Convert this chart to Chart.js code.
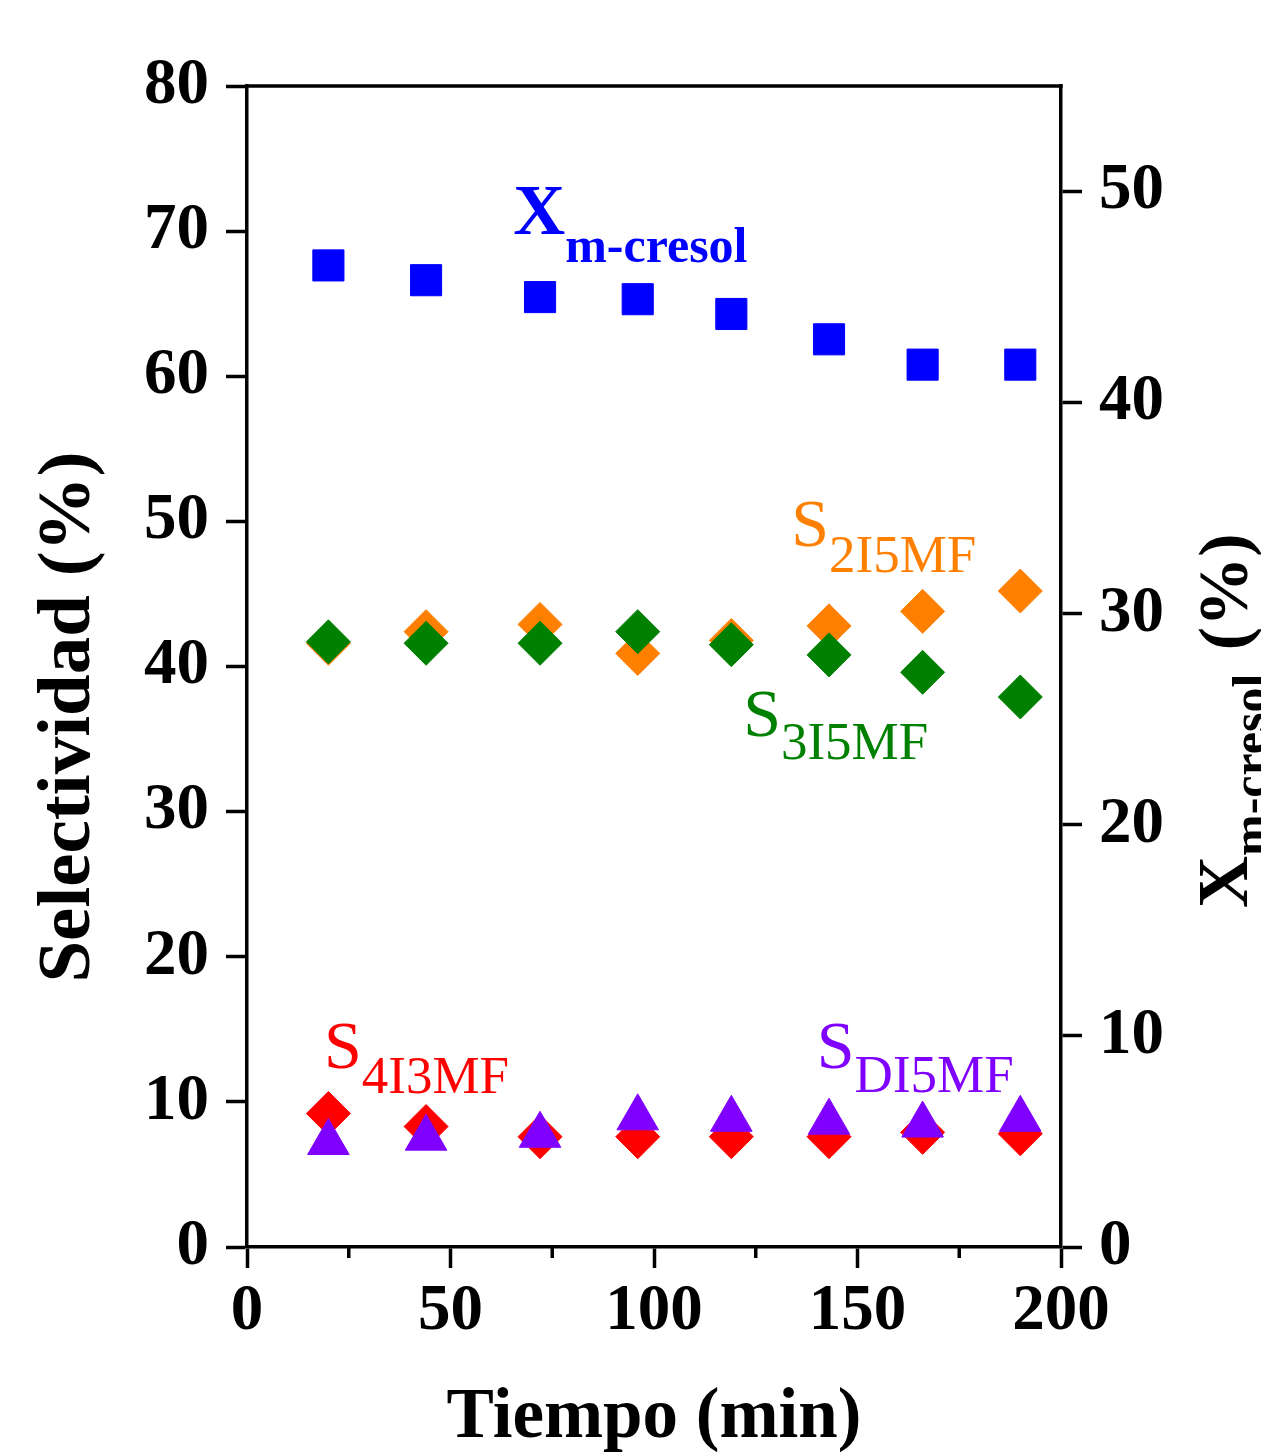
<!DOCTYPE html>
<html lang="es">
<head>
<meta charset="utf-8">
<title>Selectividad y conversión de m-cresol</title>
<script src="https://cdn.jsdelivr.net/npm/chart.js@4.4.0/dist/chart.umd.min.js"></script>
<style>
  html, body { margin: 0; padding: 0; background: #fff; }
  canvas { display: block; }
</style>
</head>
<body>
<canvas id="chart" width="1261" height="1454"></canvas>
<script>
// tiempo de reacción (min)
const tiempo = [20, 44, 72, 96, 119, 143, 166, 190];
// conversión de m-cresol (%), eje derecho
const xMCresol = [46.5, 45.8, 45.0, 44.9, 44.2, 43.0, 41.8, 41.8];
// selectividades (%), eje izquierdo
const s2I5MF = [41.6, 42.4, 42.9, 40.9, 41.8, 42.8, 43.8, 45.2];
const s3I5MF = [41.7, 41.6, 41.6, 42.4, 41.5, 40.8, 39.6, 37.9];
const s4I3MF = [9.2, 8.3, 7.6, 7.6, 7.6, 7.6, 7.9, 7.8];
const sDI5MF = [7.2, 7.5, 7.7, 8.9, 8.8, 8.6, 8.4, 8.8];

const xMinorTicks = [25, 75, 125, 175];

const BLUE = '#0000ff';
const ORANGE = '#ff8000';
const GREEN = '#008000';
const RED = '#ff0000';
const PURPLE = '#8000ff';

const serif = "'Liberation Serif', 'Times New Roman', serif";

// etiquetas dentro del gráfico (posición en unidades de x / eje izquierdo)
const labels = [
  { main: 'X', sub: 'm-cresol', color: BLUE, x: 65.4, y: 69.8, weight: 'bold', size: 72, subSize: 50, shift: 28 },
  { main: 'S', sub: '2I5MF', color: ORANGE, x: 133.7, y: 48.3, weight: 'normal', size: 68, subSize: 53, shift: 26 },
  { main: 'S', sub: '3I5MF', color: GREEN, x: 121.9, y: 35.2, weight: 'normal', size: 68, subSize: 53, shift: 23 },
  { main: 'S', sub: '4I3MF', color: RED, x: 18.9, y: 12.3, weight: 'normal', size: 68, subSize: 53, shift: 25 },
  { main: 'S', sub: 'DI5MF', color: PURPLE, x: 140, y: 12.3, weight: 'normal', size: 68, subSize: 53, shift: 24 },
];

const toPoints = (values) => tiempo.map((t, i) => ({ x: t, y: values[i] }));

function drawWithSub(ctx, x, y, l) {
  ctx.fillStyle = l.color;
  ctx.font = `${l.weight} ${l.size}px ${serif}`;
  ctx.fillText(l.main, x, y);
  const w = ctx.measureText(l.main).width;
  ctx.font = `${l.weight} ${l.subSize}px ${serif}`;
  ctx.fillText(l.sub, x + w, y + l.shift);
  return w + ctx.measureText(l.sub).width;
}

const decorations = {
  id: 'decorations',
  afterDraw(chart) {
    const { ctx, chartArea: a, scales } = chart;
    ctx.save();

    // marco superior y ticks menores
    ctx.strokeStyle = '#000';
    ctx.lineWidth = 3.5;
    ctx.beginPath();
    ctx.moveTo(a.left - 1.75, a.top);
    ctx.lineTo(a.right + 1.75, a.top);
    xMinorTicks.forEach(v => {
      const px = scales.x.getPixelForValue(v);
      ctx.moveTo(px, a.bottom);
      ctx.lineTo(px, a.bottom + 11);
    });
    ctx.stroke();

    ctx.textAlign = 'left';
    ctx.textBaseline = 'alphabetic';
    labels.forEach(l => {
      drawWithSub(ctx, scales.x.getPixelForValue(l.x), scales.y.getPixelForValue(l.y), l);
    });

    // título eje izquierdo
    ctx.save();
    ctx.translate(89, 717);
    ctx.rotate(-Math.PI / 2);
    ctx.textAlign = 'center';
    ctx.fillStyle = '#000';
    ctx.font = `bold 75px ${serif}`;
    ctx.fillText('Selectividad (%)', 0, 0);
    ctx.restore();

    // título eje derecho
    ctx.save();
    ctx.translate(a.right + 186, a.bottom - 339);
    ctx.rotate(-Math.PI / 2);
    const w = drawWithSub(ctx, 0, 0, { main: 'X', sub: 'm-cresol', color: '#000', weight: 'bold', size: 72, subSize: 50, shift: 20 });
    ctx.font = `bold 70px ${serif}`;
    ctx.fillText(' (%)', w + 6, 0);
    ctx.restore();

    ctx.restore();
  }
};

const axisCommon = {
  grid: { drawOnChartArea: false, tickLength: 21, tickWidth: 3.5, tickColor: '#000' },
  border: { display: true, width: 3.5, color: '#000' },
  ticks: {
    color: '#000',
    autoSkip: false,
    maxRotation: 0,
    font: { family: serif, size: 65, weight: 'bold', lineHeight: 1 },
  },
};

new Chart(document.getElementById('chart'), {
  type: 'scatter',
  data: {
    datasets: [
      {
        label: 'X m-cresol',
        data: toPoints(xMCresol),
        yAxisID: 'y2',
        pointStyle: 'rect',
        pointRadius: 22,
        backgroundColor: BLUE,
        borderColor: BLUE,
        borderWidth: 1,
      },
      {
        label: 'S 3I5MF',
        data: toPoints(s3I5MF),
        pointStyle: 'rectRot',
        pointRadius: 22,
        backgroundColor: GREEN,
        borderColor: GREEN,
        borderWidth: 1,
      },
      {
        label: 'S 2I5MF',
        data: toPoints(s2I5MF),
        pointStyle: 'rectRot',
        pointRadius: 22,
        backgroundColor: ORANGE,
        borderColor: ORANGE,
        borderWidth: 1,
      },
      {
        label: 'S DI5MF',
        data: toPoints(sDI5MF),
        pointStyle: 'triangle',
        pointRadius: 24,
        backgroundColor: PURPLE,
        borderColor: PURPLE,
        borderWidth: 1,
      },
      {
        label: 'S 4I3MF',
        data: toPoints(s4I3MF),
        pointStyle: 'rectRot',
        pointRadius: 22,
        backgroundColor: RED,
        borderColor: RED,
        borderWidth: 1,
      },
    ],
  },
  options: {
    responsive: false,
    animation: false,
    events: [],
    layout: { padding: { top: 86, left: 0, right: 0, bottom: 0 } },
    plugins: {
      legend: { display: false },
      tooltip: { enabled: false },
    },
    scales: {
      x: {
        ...axisCommon,
        type: 'linear',
        position: 'bottom',
        min: 0,
        max: 200,
        ticks: { ...axisCommon.ticks, stepSize: 50, padding: 12 },
        title: {
          display: true,
          text: 'Tiempo (min)',
          color: '#000',
          font: { family: serif, size: 71, weight: 'bold', lineHeight: 1 },
          padding: { top: 0, bottom: 0 },
        },
        afterFit: (s) => { s.height = 207; },
      },
      y: {
        ...axisCommon,
        type: 'linear',
        position: 'left',
        min: 0,
        max: 80,
        ticks: { ...axisCommon.ticks, stepSize: 10, padding: 17 },
        afterFit: (s) => { s.width = 247; },
      },
      y2: {
        ...axisCommon,
        type: 'linear',
        position: 'right',
        min: 0,
        max: 55,
        ticks: { ...axisCommon.ticks, stepSize: 10, padding: 17, includeBounds: false },
        afterFit: (s) => { s.width = 200; },
      },
    },
  },
  plugins: [decorations],
});
</script>
</body>
</html>
